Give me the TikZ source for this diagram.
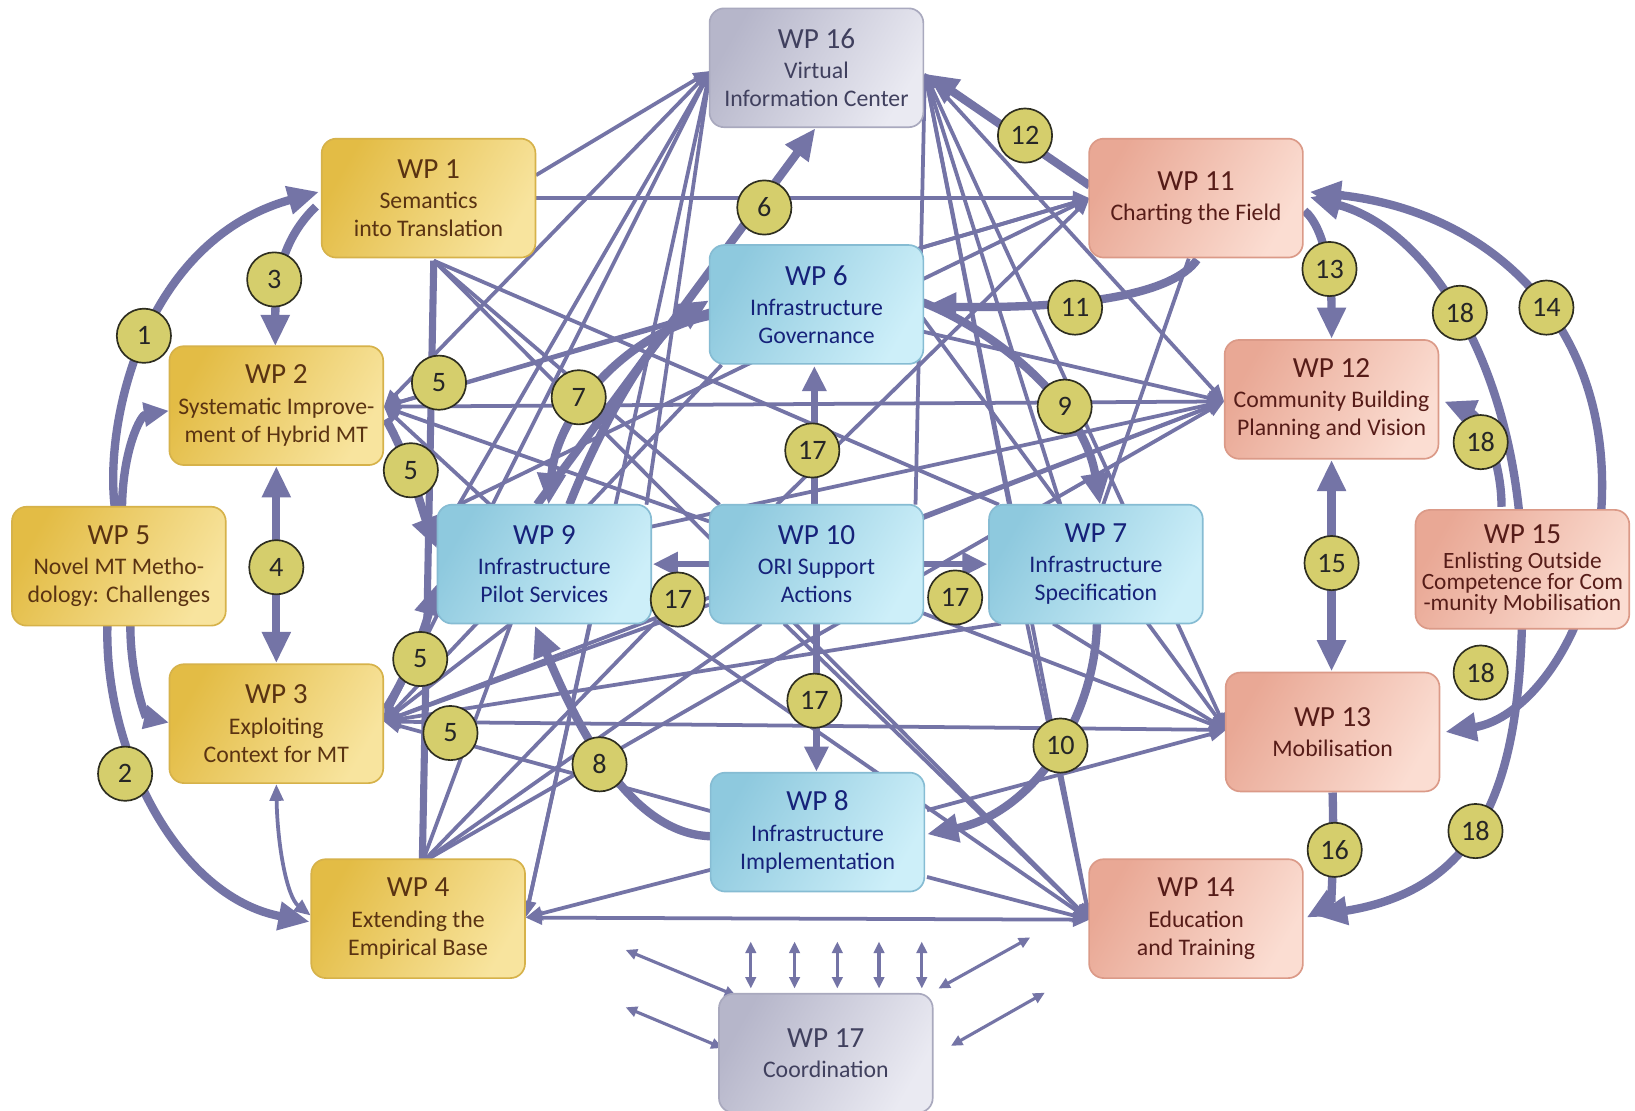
\documentclass[tikz,border=0pt]{standalone}
\usepackage{fontspec}
\setmainfont{Carlito}
\usetikzlibrary{arrows.meta}
\definecolor{lnc}{HTML}{7474A6}
\definecolor{ydark}{HTML}{E3BC45}\definecolor{ylight}{HTML}{F8E49E}\definecolor{ybord}{HTML}{D6B24A}\definecolor{ytext}{HTML}{5A3312}
\definecolor{bdark}{HTML}{8EC9DE}\definecolor{blight}{HTML}{CDEFF9}\definecolor{bbord}{HTML}{86BCD3}\definecolor{btext}{HTML}{16227A}
\definecolor{sdark}{HTML}{E9A895}\definecolor{slight}{HTML}{FBDDD2}\definecolor{sbord}{HTML}{DB9A88}\definecolor{stext}{HTML}{561C18}
\definecolor{gdark}{HTML}{B6B6CA}\definecolor{glight}{HTML}{EAEAF2}\definecolor{gbord}{HTML}{A9A9BE}\definecolor{gtext}{HTML}{40405E}
\definecolor{cfill}{HTML}{D5CE6C}\definecolor{cbord}{HTML}{2E2E20}
\newcommand\wpt[1]{{\fontsize{14}{15}\selectfont #1}}
\tikzset{
  tS/.tip={Triangle[length=8pt,width=6.5pt]},
  tM/.tip={Triangle[length=12pt,width=11pt]},
  tL/.tip={Triangle[length=15pt,width=13pt]},
  tT/.tip={Triangle[length=5.5pt,width=5pt]},
  thn/.style={draw=lnc, line width=1.8pt},
  thk/.style={draw=lnc, line width=4pt},
  midarr/.style={draw=lnc, line width=3.2pt, -tM},
  tinyarr/.style={draw=lnc, line width=1.5pt, tT-tT},
  wpbox/.style={rounded corners=7pt, minimum width=102.5pt, minimum height=57pt,
    align=center, line width=0.8pt, inner sep=2pt, font=\fontsize{11.4}{13.5}\selectfont},
  ybox/.style={wpbox, draw=ybord, left color=ydark, right color=ylight, shading angle=60, text=ytext},
  bbox/.style={wpbox, draw=bbord, left color=bdark, right color=blight, shading angle=60, text=btext},
  sbox/.style={wpbox, draw=sbord, left color=sdark, right color=slight, shading angle=60, text=stext},
  gbox/.style={wpbox, draw=gbord, left color=gdark, right color=glight, shading angle=60, text=gtext},
  num/.style={circle, fill=cfill, draw=cbord, line width=0.8pt, minimum size=26pt, inner sep=0pt,
    font=\fontsize{13.5}{14}\selectfont, text=black!85}
}
\begin{document}
\begin{tikzpicture}[x=0.5pt,y=-0.5pt]
\useasboundingbox (0,0) rectangle (1568,1065);
\fill[white] (0,0) rectangle (1568,1065);

% ---------- connection points ----------
\coordinate (h16L) at (681,68);   \coordinate (h16R) at (887,70);
\coordinate (h1R) at (514,190);   \coordinate (h1Rt) at (514,168);
\coordinate (h1B) at (416,250);   \coordinate (h2R) at (368,390);
\coordinate (h3R) at (368,692);   \coordinate (h4T) at (405,827);
\coordinate (h4R) at (504,880);   \coordinate (h11L) at (1045,190);
\coordinate (h11B) at (1140,248); \coordinate (h12L) at (1174,385);
\coordinate (h13L) at (1176,700); \coordinate (h14L) at (1045,882);
\coordinate (e6L) at (680,300);   \coordinate (e6TR) at (882,238);
\coordinate (e6R) at (885,318);   \coordinate (e6Rb) at (885,305);
\coordinate (e6BL) at (692,350);
\coordinate (e9TL) at (440,484);  \coordinate (e9T) at (470,484);
\coordinate (e9TR) at (620,484);  \coordinate (e9R) at (625,505);
\coordinate (e9B) at (490,598);   \coordinate (e9Bm) at (566,598);
\coordinate (e9BR) at (630,595);
\coordinate (e10TL) at (690,484); \coordinate (e10T) at (745,484);
\coordinate (e10TR) at (878,484); \coordinate (e10L) at (680,500);
\coordinate (e10Lb) at (680,580); \coordinate (e10R) at (885,497);
\coordinate (e10Rb) at (885,588); \coordinate (e10B) at (752,598);
\coordinate (e10Bl) at (730,598);
\coordinate (e7TL) at (958,484);  \coordinate (e7T) at (969,484);
\coordinate (e7T2) at (1017,484); \coordinate (e7T3) at (1058,484);
\coordinate (e7B1) at (985,598);  \coordinate (e7B2) at (1010,598);
\coordinate (e7Bl) at (960,598);
\coordinate (e8L) at (682,778);   \coordinate (e8Lb) at (682,834);
\coordinate (e8R) at (889,777);   \coordinate (e8Rb) at (889,841);

% ---------- thin links ----------
\draw[thn,-tS] (h1R) -- (h11L);
\draw[thn,tS-tS] (h2R) -- (h12L);
\draw[thn,tS-tS] (h3R) -- (h13L);
\draw[thn,tS-tS] (h4R) -- (h14L);
\draw[thn,-tS] (h1Rt) -- (h16L);
\draw[thn,tS-tS] (h2R) -- (h16L);
\draw[thn,tS-tS] (h3R) -- (h16L);
\draw[thn,tS-tS] (h4R) -- (h16L);
\draw[thn,-tS] (e9TL) -- (h16L);
\draw[thn,-tS] (e9TR) -- (h16L);
\draw[thn,-tS] (e7T) -- (h16R);
\draw[thn,-tS] (e7T2) -- (h16R);
\draw[thn,-tS] (e10TR) -- (h16R);
\draw[thn,tS-tS] (h12L) -- (h16R);
\draw[thn,tS-tS] (h13L) -- (h16R);
\draw[thn,tS-tS] (h14L) -- (h16R);
\draw[thn,-tS] (e6TR) -- (h11L);
\draw[thn,tS-tS] (h2R) -- (h11L);
\draw[thn,-tS] (e9TL) -- (h11L);
\draw[thn,-tS] (e10T) -- (h11L);
\draw[thn] (h11B) -- (e7T3);
\draw[thn,-tS] (e6R) -- (h12L);
\draw[thn,-tS] (e10R) -- (h12L);
\draw[thn,-tS] (e9R) -- (h12L);
\draw[thn,tS-tS] (h3R) -- (h12L);
\draw[thn,-tS] (h4T) -- (h12L);
\draw[thn,-tS] (e10Rb) -- (h13L);
\draw[thn,-tS] (e7B2) -- (h13L);
\draw[thn,-tS] (e6Rb) -- (h13L);
\draw[thn,-tS] (e8R) -- (h13L);
\draw[thn,-tS] (e8Rb) -- (h14L);
\draw[thn,-tS] (e10B) -- (h14L);
\draw[thn,-tS] (e9BR) -- (h14L);
\draw[thn,-tS] (e7B1) -- (h14L);
\draw[thn,-tS] (h1B) -- (h14L);
\draw[thn] (h1B) -- (e10TL);
\draw[thn] (h1B) -- (e7TL);
\draw[thn,-tS] (e6L) -- (h2R);
\draw[thn,-tS] (e10L) -- (h2R);
\draw[thn,-tS] (e9T) -- (h2R);
\draw[thn,-tS] (e9B) -- (h3R);
\draw[thn,-tS] (e10Lb) -- (h3R);
\draw[thn,-tS] (e8L) -- (h3R);
\draw[thn,-tS] (e7Bl) -- (h3R);
\draw[thn,-tS] (e6BL) -- (h3R);
\draw[thn] (h4T) -- (e9B);
\draw[thn] (h4T) -- (e9BR);
\draw[thn] (h4T) -- (e10Bl);
\draw[thn,-tS] (e9Bm) -- (h4R);
\draw[thn,-tS] (e8Lb) -- (h4R);

% ---------- thick numbered flows ----------
\coordinate (w5Ta) at (110,486); \coordinate (w5Tb) at (117,486);
\coordinate (w5Ba) at (103,600); \coordinate (w5Bb) at (125,600);
\coordinate (w1L) at (306,184);  \coordinate (w1La) at (303,198);
\coordinate (w2L) at (162,394);  \coordinate (w2T) at (264,332);
\coordinate (w2B) at (265,447);  \coordinate (w2Ra) at (370,402);
\coordinate (w3L) at (162,693);  \coordinate (w3T) at (265,636);
\coordinate (w3B) at (265,752);  \coordinate (w3Ra) at (370,680);
\coordinate (w4L) at (297,884);  \coordinate (w4La) at (298,878);
\coordinate (w9La) at (419,526); \coordinate (w9Lb) at (419,560);
\coordinate (w9Ta) at (515,484); \coordinate (w9Tb) at (526,484);
\coordinate (w9Tc) at (546,484); \coordinate (w9B) at (513,600);
\coordinate (w16B) at (782,123); \coordinate (w16R) at (889,71);
\coordinate (w6La) at (680,303); \coordinate (w6Lb) at (680,288);
\coordinate (w6Ra) at (885,290); \coordinate (w6Rb) at (887,294);
\coordinate (w7T) at (1055,484); \coordinate (w7B) at (1052,598);
\coordinate (w8L) at (682,802);  \coordinate (w8R) at (889,800);
\coordinate (w11L) at (1045,178); \coordinate (w11B) at (1148,249);
\coordinate (w11Ra) at (1256,184); \coordinate (w11Rb) at (1256,189);
\coordinate (w11Rc) at (1251,202);
\coordinate (w12T) at (1277,325); \coordinate (w12B) at (1277,441);
\coordinate (w12R) at (1385,385);
\coordinate (w13T) at (1277,644); \coordinate (w13B) at (1278,760);
\coordinate (w13R) at (1386,702);
\coordinate (w14Ra) at (1262,878); \coordinate (w14Rb) at (1253,880);
\coordinate (w15T) at (1440,486);
\coordinate (w15a) at (1528,545); \coordinate (w15b) at (1460,540);

\draw[thk,-tL] (w5Ta) .. controls (100,400) and (140,230) .. (w1L);
\draw[thk,-tM] (w5Tb) .. controls (118,430) and (135,398) .. (w2L);
\draw[thk,-tL] (w5Ba) .. controls (100,720) and (170,860) .. (w4L);
\draw[thk,-tM] (w5Bb) .. controls (125,650) and (140,688) .. (w3L);
\draw[thk,-tL] (w1La) .. controls (272,228) and (264,265) .. (w2T);
\draw[thk,tL-tL] (w2B) -- (w3T);
\draw[draw=lnc,line width=1.8pt,tS-tS] (w3B) .. controls (266,810) and (275,860) .. (w4La);
\draw[draw=lnc,line width=3.4pt] (h1B) -- (h4T);
\draw[thk,-tL] (w2Ra) .. controls (392,440) and (405,490) .. (w9La);
\draw[thk,-tL] (w3Ra) .. controls (395,640) and (408,600) .. (w9Lb);
\draw[thk,-tL] (w9Ta) -- (w16B);
\draw[thk,-tL] (w6La) .. controls (605,318) and (535,392) .. (w9Tb);
\draw[thk,-tL] (w9Tc) .. controls (575,410) and (625,322) .. (w6Lb);
\draw[thk,-tL] (w8L) .. controls (605,800) and (555,700) .. (w9B);
\draw[thk,-tL] (w6Ra) .. controls (960,320) and (1040,390) .. (w7T);
\draw[thk,-tL] (w7B) .. controls (1050,690) and (990,780) .. (w8R);
\draw[thk,-tL] (w11B) .. controls (1125,282) and (1040,296) .. (w6Rb);
\draw[thk,-tL] (w11L) -- (w16R);
\draw[thk,-tL] (w11Rc) .. controls (1272,220) and (1277,270) .. (w12T);
\draw[thk,tL-tL] (w11Ra) .. controls (1450,205) and (1570,340) .. (w15a)
   .. controls (1511,627) and (1460,690) .. (w13R);
\draw[thk,tL-tL] (w11Rb) .. controls (1370,220) and (1455,350) .. (w15b)
   .. controls (1462,720) and (1440,850) .. (w14Ra);
\draw[thk,-tL] (w15T) .. controls (1440,440) and (1420,400) .. (w12R);
\draw[thk,tL-tL] (w12B) -- (w13T);
\draw[thk,-tL] (w13B) .. controls (1280,840) and (1275,868) .. (w14Rb);

% ORI support actions
\coordinate (v10T) at (781,484); \coordinate (v6B) at (781,351);
\coordinate (v10L) at (680,541); \coordinate (v9R) at (626,541);
\coordinate (v10R) at (885,541); \coordinate (v7L) at (947,541);
\coordinate (v10B) at (783,598); \coordinate (v8T) at (783,740);
\draw[midarr] (v10T) -- (v6B);
\draw[midarr] (v10L) -- (v9R);
\draw[midarr] (v10R) -- (v7L);
\draw[midarr] (v10B) -- (v8T);

% coordination links
\foreach \xx [count=\k] in {720,762,803,843,884}{
  \coordinate (ca\k) at (\xx,903); \coordinate (cb\k) at (\xx,948);
  \draw[tinyarr] (ca\k) -- (cb\k);
}
\coordinate (cd1) at (600,911);  \coordinate (cd2) at (706,955);
\coordinate (cd3) at (600,966);  \coordinate (cd4) at (693,1005);
\coordinate (cd5) at (988,899);  \coordinate (cd6) at (900,948);
\coordinate (cd7) at (1002,952); \coordinate (cd8) at (912,1003);
\draw[tinyarr] (cd1) -- (cd2);
\draw[tinyarr] (cd3) -- (cd4);
\draw[tinyarr] (cd5) -- (cd6);
\draw[tinyarr] (cd7) -- (cd8);

% ---------- work packages ----------
\node[gbox] (wp16) at (783,65) {\wpt{WP 16}\\[1pt] Virtual\\ Information Center};
\node[ybox] (wp1) at (411,190) {\wpt{WP 1}\\[1pt] Semantics\\ into Translation};
\node[ybox] (wp2) at (265,389) {\wpt{WP 2}\\[1pt] Systematic Improve-\\ ment of Hybrid MT};
\node[ybox] (wp5) at (114,543) {\wpt{WP 5}\\[1pt] Novel MT Metho-\\ dology: Challenges};
\node[ybox] (wp3) at (265,694) {\wpt{WP 3}\\[1pt] Exploiting\\ Context for MT};
\node[ybox] (wp4) at (401,881) {\wpt{WP 4}\\[1pt] Extending the\\ Empirical Base};
\node[bbox] (wp6) at (783,292) {\wpt{WP 6}\\[1pt] Infrastructure\\ Governance};
\node[bbox] (wp9) at (522,541) {\wpt{WP 9}\\[1pt] Infrastructure\\ Pilot Services};
\node[bbox] (wp10) at (783,541) {\wpt{WP 10}\\[1pt] ORI Support\\ Actions};
\node[bbox] (wp7) at (1051,541) {\wpt{WP 7}\\[1pt] Infrastructure\\ Specification};
\node[bbox] (wp8) at (784,798) {\wpt{WP 8}\\[1pt] Infrastructure\\ Implementation};
\node[sbox] (wp11) at (1147,190) {\wpt{WP 11}\\[1pt] Charting the Field};
\node[sbox] (wp12) at (1277,383) {\wpt{WP 12}\\[1pt] Community Building\\ Planning and Vision};
\node[sbox] (wp13) at (1278,702) {\wpt{WP 13}\\[1pt] Mobilisation};
\node[sbox] (wp14) at (1147,881) {\wpt{WP 14}\\[1pt] Education\\ and Training};
\node[sbox, font=\fontsize{11.2}{10}\selectfont] (wp15) at (1460,546)
  {\wpt{WP 15}\\[2pt] Enlisting Outside\\ Competence for Com\\ -munity Mobilisation};
\node[gbox] (wp17) at (792,1010) {\wpt{WP 17}\\[1pt] Coordination};

% ---------- flow numbers ----------
\node[num] (n1) at (138,322) {1};
\node[num] (n2) at (120,742) {2};
\node[num] (n3) at (263,268) {3};
\node[num] (n4) at (265,544) {4};
\node[num] (n5a) at (421,367) {5};
\node[num] (n5b) at (394,451) {5};
\node[num] (n5c) at (403,632) {5};
\node[num] (n5d) at (432,703) {5};
\node[num] (n6) at (733,199) {6};
\node[num] (n7) at (555,381) {7};
\node[num] (n8) at (575,733) {8};
\node[num] (n9) at (1021,390) {9};
\node[num] (n10) at (1017,715) {10};
\node[num] (n11) at (1031,295) {11};
\node[num] (n12) at (983,130) {12};
\node[num] (n13) at (1275,258) {13};
\node[num] (n14) at (1483,295) {14};
\node[num] (n15) at (1277,540) {15};
\node[num] (n16) at (1280,815) {16};
\node[num] (n17a) at (779,432) {17};
\node[num] (n17b) at (650,575) {17};
\node[num] (n17c) at (916,573) {17};
\node[num] (n17d) at (781,672) {17};
\node[num] (n18a) at (1400,300) {18};
\node[num] (n18b) at (1420,424) {18};
\node[num] (n18c) at (1420,645) {18};
\node[num] (n18d) at (1415,797) {18};
\end{tikzpicture}
\end{document}
